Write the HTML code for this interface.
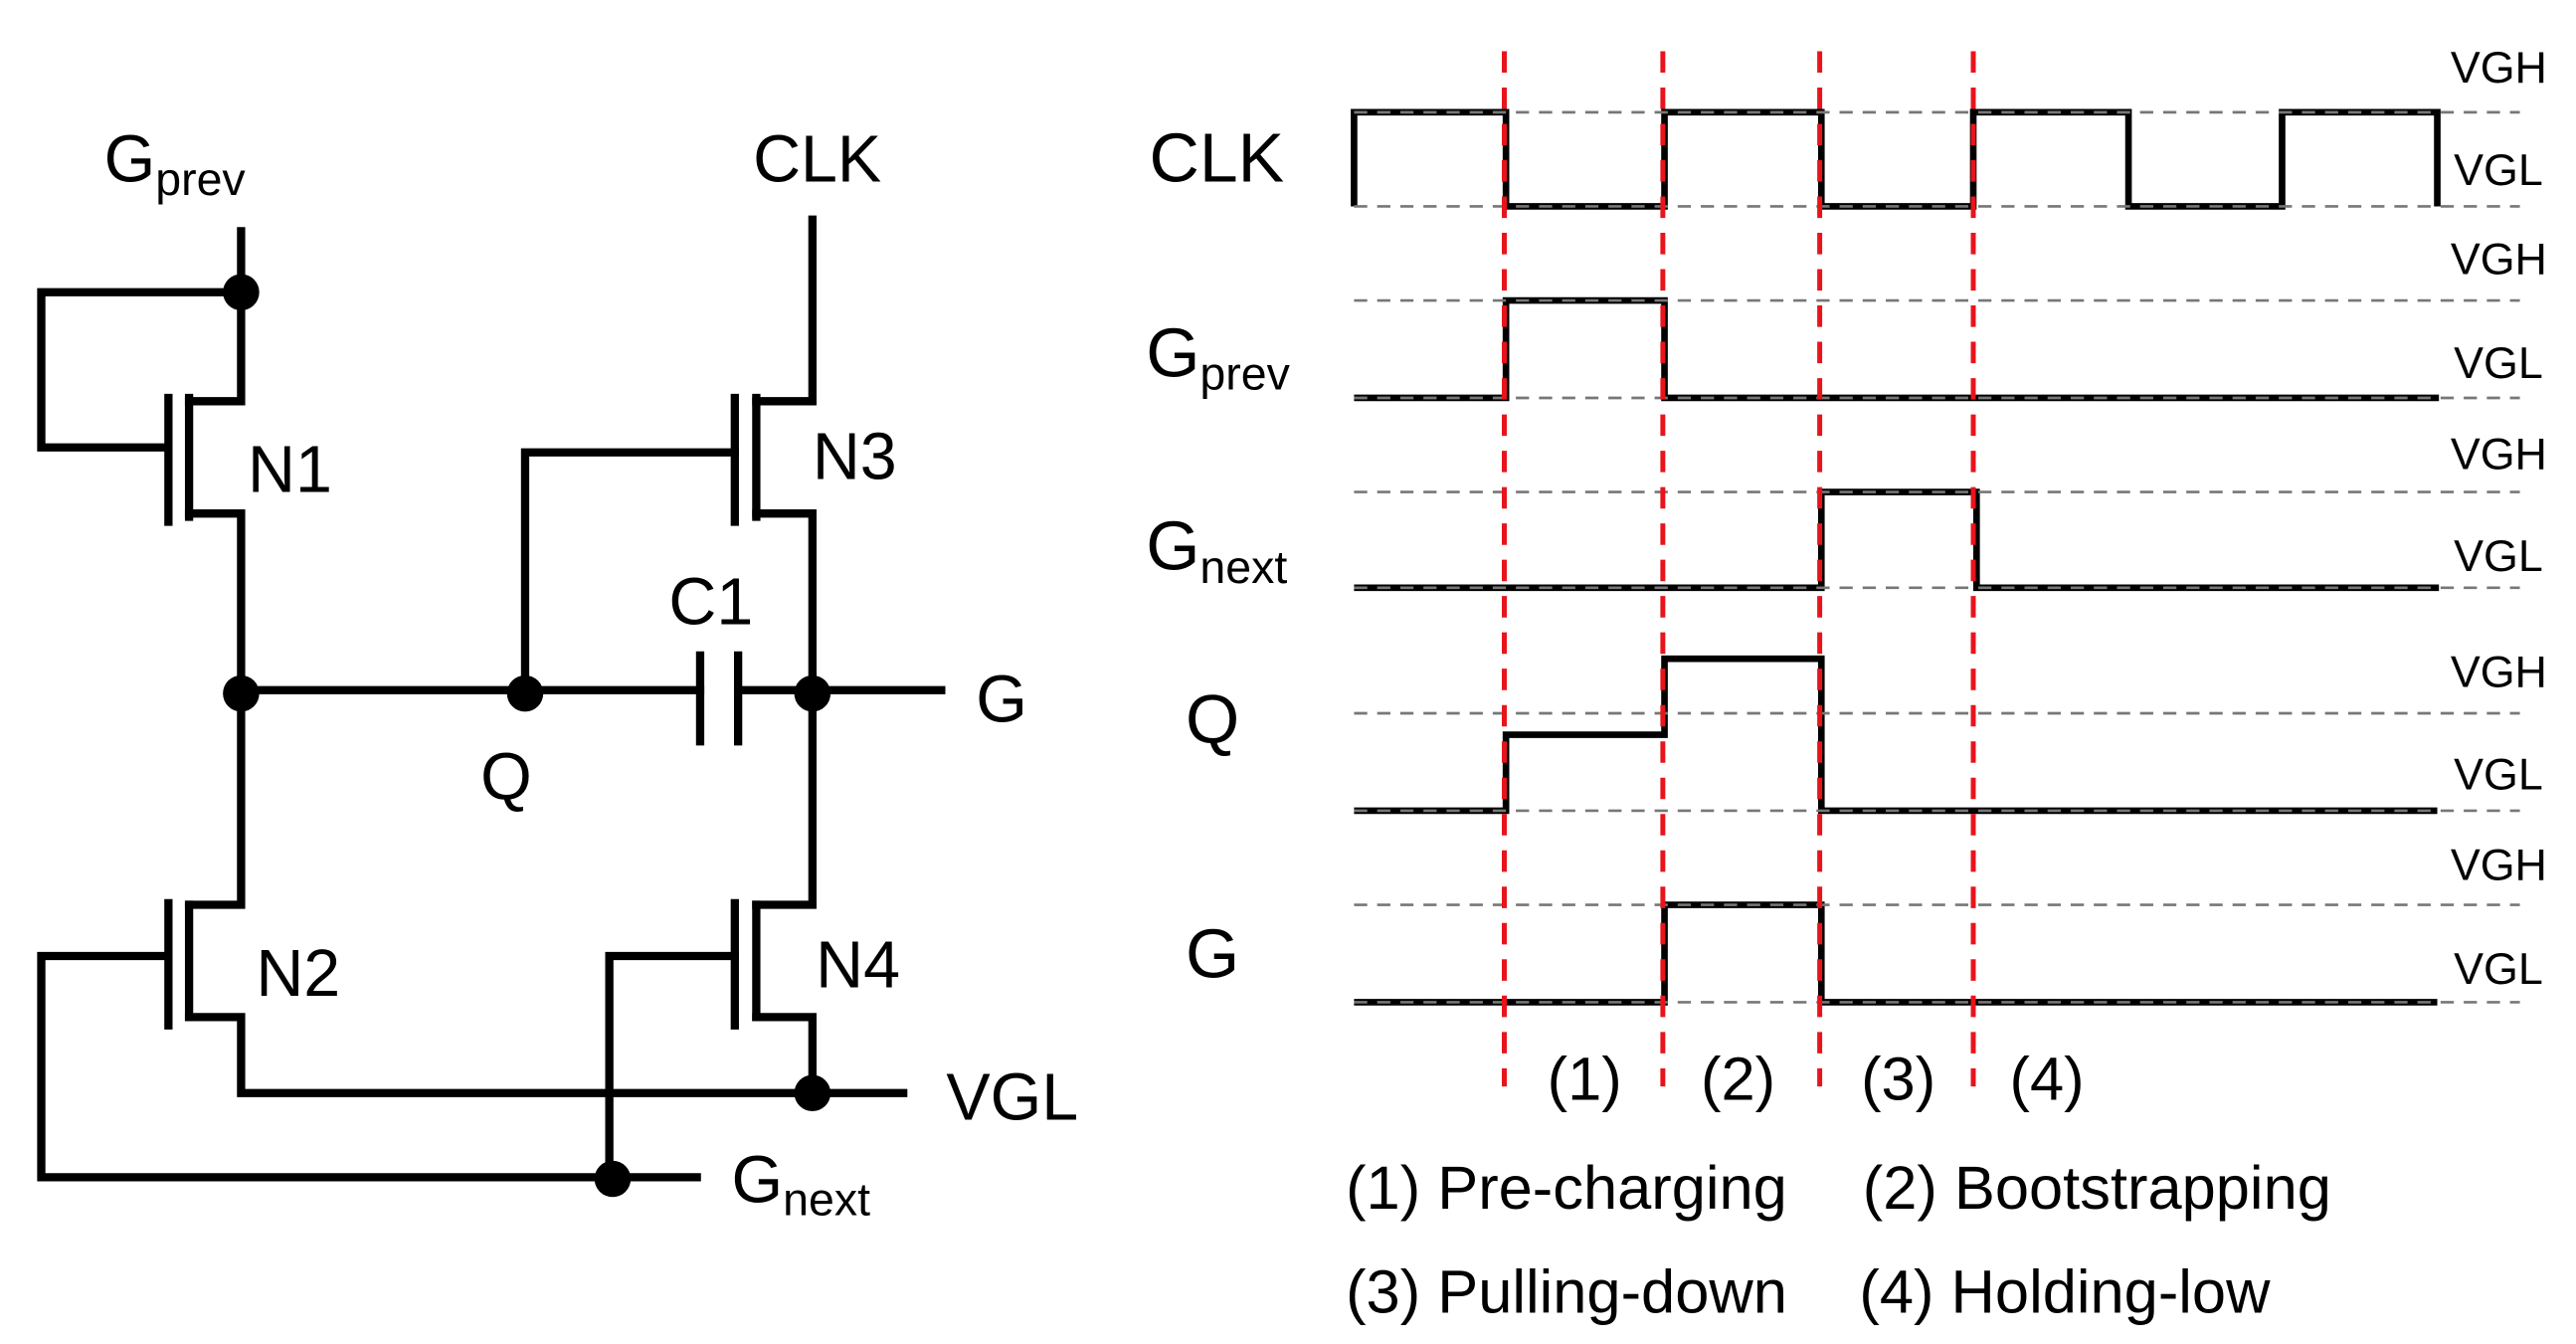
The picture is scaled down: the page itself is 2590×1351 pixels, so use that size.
<!DOCTYPE html>
<html><head><meta charset="utf-8"><style>html,body{margin:0;padding:0;background:#fff}svg{display:block}text{font-family:"Liberation Sans",Arial,sans-serif;fill:#000}</style></head>
<body>
<svg width="2590" height="1351" viewBox="0 0 1560 814" preserveAspectRatio="none" xmlns="http://www.w3.org/2000/svg">
<rect width="1560" height="814" fill="#fff"/>
<g stroke="#000" stroke-width="5" fill="none" stroke-linecap="square">
<polyline points="146,140 146,243 114.5,243"/>
<polyline points="146,177 25,177 25,271 102,271"/>
<line x1="102" y1="241" x2="102" y2="316"/>
<line x1="114.5" y1="241" x2="114.5" y2="313"/>
<polyline points="114.5,311 146,311 146,548 114.5,548"/>
<line x1="102" y1="547" x2="102" y2="621"/>
<line x1="114.5" y1="548" x2="114.5" y2="616"/>
<polyline points="102,579 25,579 25,713 422,713"/>
<polyline points="114.5,616 146,616 146,662 547,662"/>
<line x1="146" y1="418" x2="424" y2="418"/>
<line x1="424" y1="397" x2="424" y2="449"/>
<line x1="447" y1="397" x2="447" y2="449"/>
<line x1="447" y1="418" x2="570" y2="418"/>
<polyline points="318,418 318,274 445,274"/>
<line x1="445" y1="241" x2="445" y2="316"/>
<line x1="458" y1="241" x2="458" y2="313"/>
<polyline points="492,133 492,243 458,243"/>
<polyline points="458,311 492,311 492,548 458,548"/>
<line x1="445" y1="547" x2="445" y2="621"/>
<line x1="458" y1="548" x2="458" y2="616"/>
<polyline points="445,579 369,579 369,713"/>
<polyline points="458,616 492,616 492,662"/>
</g>
<g fill="#000">
<circle cx="146" cy="177" r="11"/>
<circle cx="146" cy="420" r="11"/>
<circle cx="318" cy="420" r="11"/>
<circle cx="492" cy="420" r="11"/>
<circle cx="492" cy="662" r="11"/>
<circle cx="371" cy="714" r="11"/>
</g>
<g font-size="40">
<text x="63" y="110">G<tspan font-size="28" dy="8">prev</tspan></text>
<text x="456" y="110">CLK</text>
<text x="150" y="298">N1</text>
<text x="492" y="290">N3</text>
<text x="405" y="378">C1</text>
<text x="291" y="484">Q</text>
<text x="591" y="437">G</text>
<text x="155" y="603">N2</text>
<text x="494" y="598">N4</text>
<text x="573" y="678">VGL</text>
<text x="443" y="728">G<tspan font-size="28" dy="8">next</tspan></text>
</g>
<g stroke="#000" stroke-width="4" fill="none">
<polyline points="820,125 820,68 912,68 912,125 1008,125 1008,68 1103,68 1103,125 1195,125 1195,68 1289,68 1289,125 1382,125 1382,68 1476,68 1476,125"/>
<polyline points="820,241 912,241 912,182 1008,182 1008,241 1477,241"/>
<polyline points="820,356 1103,356 1103,298 1197,298 1197,356 1477,356"/>
<polyline points="820,491 912,491 912,445 1008,445 1008,399 1103,399 1103,491 1476,491"/>
<polyline points="820,607 1008,607 1008,548 1103,548 1103,607 1476,607"/>
</g>
<g stroke="#777" stroke-width="1.6" stroke-dasharray="8,6">
<line x1="820" y1="68" x2="1526" y2="68"/><line x1="820" y1="125" x2="1526" y2="125"/>
<line x1="820" y1="182" x2="1526" y2="182"/><line x1="820" y1="241" x2="1526" y2="241"/>
<line x1="820" y1="298" x2="1526" y2="298"/><line x1="820" y1="356" x2="1526" y2="356"/>
<line x1="820" y1="432" x2="1526" y2="432"/><line x1="820" y1="491" x2="1526" y2="491"/>
<line x1="820" y1="548" x2="1526" y2="548"/><line x1="820" y1="607" x2="1526" y2="607"/>
</g>
<g stroke="#e8141c" stroke-width="3" stroke-dasharray="13,9">
<line x1="911" y1="31" x2="911" y2="658"/>
<line x1="1007" y1="31" x2="1007" y2="658"/>
<line x1="1102" y1="31" x2="1102" y2="658"/>
<line x1="1195" y1="31" x2="1195" y2="658"/>
</g>
<g font-size="27">
<text x="1484" y="50">VGH</text><text x="1486" y="112">VGL</text>
<text x="1484" y="166">VGH</text><text x="1486" y="229">VGL</text>
<text x="1484" y="284">VGH</text><text x="1486" y="346">VGL</text>
<text x="1484" y="416">VGH</text><text x="1486" y="478">VGL</text>
<text x="1484" y="533">VGH</text><text x="1486" y="596">VGL</text>
</g>
<g font-size="42">
<text x="696" y="110">CLK</text>
<text x="694" y="228">G<tspan font-size="28" dy="8">prev</tspan></text>
<text x="694" y="345">G<tspan font-size="28" dy="8">next</tspan></text>
<text x="718" y="450">Q</text>
<text x="718" y="592">G</text>
</g>
<g font-size="37">
<text x="937" y="666">(1)</text>
<text x="1030" y="666">(2)</text>
<text x="1127" y="666">(3)</text>
<text x="1217" y="666">(4)</text>
<text x="815" y="732">(1) Pre-charging</text>
<text x="1128" y="732">(2) Bootstrapping</text>
<text x="815" y="795">(3) Pulling-down</text>
<text x="1126" y="795">(4) Holding-low</text>
</g>
</svg>
</body></html>
